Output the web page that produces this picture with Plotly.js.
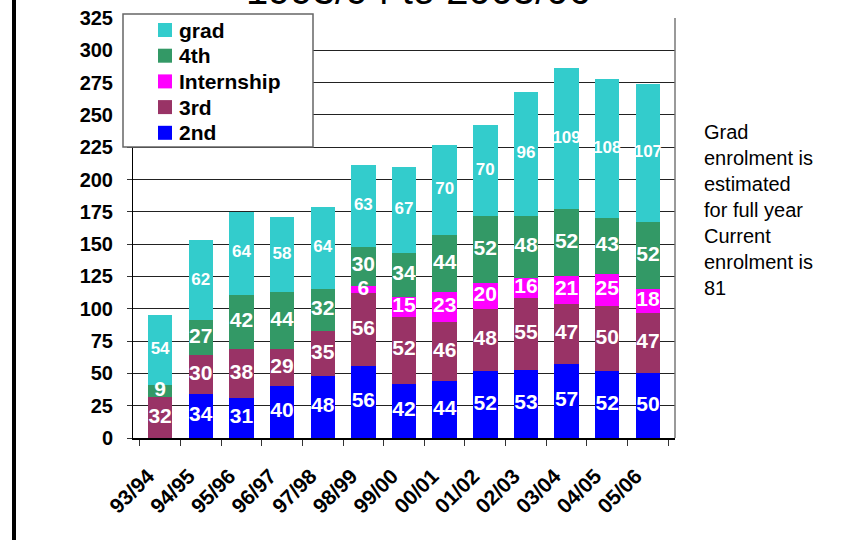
<!DOCTYPE html>
<html>
<head>
<meta charset="utf-8">
<script src="https://cdn.plot.ly/plotly-3.0.1.min.js"></script>
<style>html,body{margin:0;padding:0;background:#fff;}#chart{width:854px;height:540px;}</style>
</head>
<body>
<div id="chart"></div>
<script>
const years = ["93/94","94/95","95/96","96/97","97/98","98/99","99/00","00/01","01/02","02/03","03/04","04/05","05/06"];
const second = [null,34,31,40,48,56,42,44,52,53,57,52,50];
const third = [32,30,38,29,35,56,52,46,48,55,47,50,47];
const internship = [null,null,null,null,null,6,15,23,20,16,21,25,18];
const fourth = [9,27,42,44,32,30,34,44,52,48,52,43,52];
const grad = [54,62,64,58,64,63,67,70,70,96,109,108,107];
const yTicks = [0,25,50,75,100,125,150,175,200,225,250,275,300,325];
const titleText = "1993/94 to 2005/06";
const noteText = "Grad<br>enrolment is<br>estimated<br>for full year<br>Current<br>enrolment is<br>81";

const series = [
  {name:"2nd", vals:second, color:"#0000FF", fs:21},
  {name:"3rd", vals:third, color:"#993366", fs:21},
  {name:"Internship", vals:internship, color:"#FF00FF", fs:21},
  {name:"4th", vals:fourth, color:"#339966", fs:21},
  {name:"grad", vals:grad, color:"#33CCCC", fs:17}
];
const F = "Arial, 'Liberation Sans', sans-serif";
const W = 542, H = 420, L = 133, T = 18;
const px2x = p => (p - L) / W;
const px2y = p => (T + H - p) / H;

const traces = [];
const base = years.map(()=>0);
const labelTraces = [];
series.forEach(s=>{
  traces.push({type:"bar", name:s.name, x:years, y:s.vals, marker:{color:s.color, line:{width:0}}, hoverinfo:"skip", showlegend:false});
  const ys = s.vals.map((v,i)=> v==null ? null : base[i] + v/2);
  labelTraces.push({type:"scatter", mode:"text", x:years, y:ys, text:s.vals.map(v=>v==null?"":String(v)),
    textfont:{family:F, size:s.fs, color:"#FFFFFF", weight:"bold"}, showlegend:false, hoverinfo:"skip", cliponaxis:false});
  s.vals.forEach((v,i)=>{ if(v!=null) base[i]+=v; });
});

const shapes = [
  {type:"rect", xref:"paper", yref:"paper", x0:px2x(123), x1:px2x(313), y0:px2y(147), y1:px2y(14),
    fillcolor:"#fff", line:{color:"#666", width:1.5}, layer:"above"},
  {type:"line", xref:"paper", yref:"paper", x0:1, x1:1, y0:0, y1:1, line:{color:"#777", width:1.5}},
  {type:"line", xref:"paper", yref:"paper", x0:px2x(14), x1:px2x(14), y0:-0.3, y1:1.1, line:{color:"#000", width:4}}
];
const annotations = [
  {xref:"paper", yref:"paper", x:px2x(418), y:px2y(14), xanchor:"center", yanchor:"bottom", showarrow:false,
    text:titleText, font:{family:F, size:40, color:"#000"}},
  {xref:"paper", yref:"paper", x:1.05, y:0.76, xanchor:"left", yanchor:"top", align:"left", showarrow:false,
    text:noteText, font:{family:F, size:20, color:"#000"}}
];
// legend (top to bottom: reversed stacking order)
series.slice().reverse().forEach((s,k)=>{
  const cy = 30 + 25.7*k;
  shapes.push({type:"rect", xref:"paper", yref:"paper", x0:px2x(158), x1:px2x(172), y0:px2y(cy+7), y1:px2y(cy-7),
    fillcolor:s.color, line:{width:0}, layer:"above"});
  annotations.push({xref:"paper", yref:"paper", x:px2x(177), y:px2y(cy), xanchor:"left", yanchor:"middle", showarrow:false,
    text:s.name, font:{family:F, size:21, color:"#000", weight:"bold"}});
});

const layout = {
  width:854, height:540,
  margin:{l:133, r:179, t:18, b:102},
  paper_bgcolor:"#fff", plot_bgcolor:"#fff",
  barmode:"stack", bargap:0.4,
  showlegend:false,
  font:{family:F, color:"#000"},
  xaxis:{type:"category", tickson:"boundaries", ticks:"outside", ticklen:6, tickcolor:"#333",
    showline:true, linecolor:"#000", linewidth:1.5, showgrid:false, tickangle:-45,
    ticklabelstandoff:16, ticklabelshift:-12,
    tickfont:{family:F, size:21, color:"#000", weight:"bold"}, fixedrange:true},
  yaxis:{range:[0,325], tickvals:yTicks, ticks:"outside", ticklen:5, tickcolor:"#333",
    showline:true, linecolor:"#000", linewidth:1, showgrid:true, gridcolor:"#222", gridwidth:1,
    ticklabelstandoff:10,
    zeroline:false, tickfont:{family:F, size:20, color:"#000", weight:"bold"}, fixedrange:true},
  shapes:shapes,
  annotations:annotations
};
Plotly.newPlot("chart", traces.concat(labelTraces), layout, {displayModeBar:false, staticPlot:true});
</script>
</body>
</html>
